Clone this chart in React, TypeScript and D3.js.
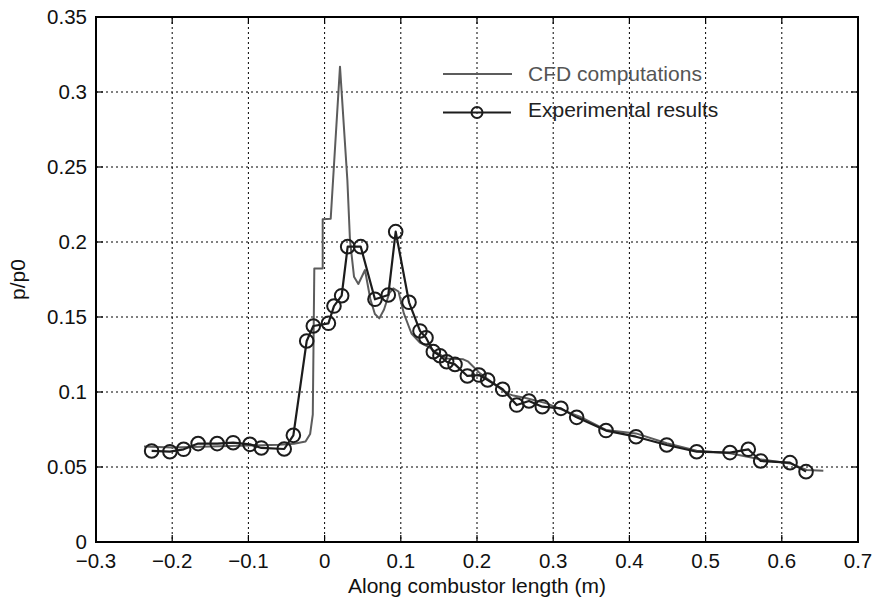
import React from "react";
import * as d3 from "d3";

const expX = [-0.227, -0.203, -0.185, -0.166, -0.141, -0.12, -0.098, -0.083, -0.053, -0.041, -0.0235, -0.0148, 0.005, 0.0123, 0.0224, 0.0303, 0.0474, 0.0661, 0.0836, 0.0933, 0.1108, 0.1252, 0.1331, 0.1427, 0.1514, 0.1602, 0.1711, 0.1873, 0.2026, 0.214, 0.2337, 0.2521, 0.2682, 0.2857, 0.3102, 0.3308, 0.3693, 0.4087, 0.449, 0.4883, 0.532, 0.556, 0.5723, 0.6108, 0.6318];
const expY = [0.0607, 0.0602, 0.0618, 0.0656, 0.0656, 0.0662, 0.0651, 0.0627, 0.062, 0.0711, 0.134, 0.144, 0.1458, 0.1573, 0.1642, 0.1969, 0.1969, 0.1618, 0.1647, 0.2069, 0.1598, 0.1407, 0.1362, 0.1269, 0.1242, 0.1202, 0.1184, 0.1107, 0.1113, 0.108, 0.1018, 0.0913, 0.094, 0.0902, 0.0891, 0.0831, 0.0743, 0.0702, 0.0647, 0.0602, 0.0596, 0.0618, 0.054, 0.0529, 0.0469];

const cfdX = [-0.237, -0.2, -0.15, -0.1, -0.06, -0.04, -0.025, -0.019, -0.0155, -0.0135, -0.0025, -0.0025, 0.008, 0.0202, 0.0299, 0.0333, 0.0386, 0.0443, 0.053, 0.06, 0.066, 0.0718, 0.078, 0.085, 0.0902, 0.097, 0.104, 0.114, 0.125, 0.137, 0.145, 0.16, 0.182, 0.1886, 0.204, 0.2214, 0.239, 0.2477, 0.2652, 0.2915, 0.3177, 0.335, 0.3693, 0.4087, 0.449, 0.4883, 0.532, 0.5714, 0.6108, 0.6327, 0.6545];
const cfdY = [0.0636, 0.063, 0.0636, 0.0643, 0.0648, 0.0655, 0.067, 0.072, 0.085, 0.1824, 0.1824, 0.2151, 0.2155, 0.3169, 0.241, 0.2013, 0.1769, 0.172, 0.1813, 0.162, 0.152, 0.1491, 0.155, 0.166, 0.1691, 0.167, 0.1524, 0.139, 0.133, 0.13, 0.1269, 0.1224, 0.1218, 0.1202, 0.1124, 0.1058, 0.0991, 0.0976, 0.0958, 0.0924, 0.0869, 0.0835, 0.0747, 0.0724, 0.0658, 0.0609, 0.0591, 0.0551, 0.0524, 0.048, 0.0475];

const xDomain: [number, number] = [-0.3, 0.7];
const yDomain: [number, number] = [0, 0.35];
const legendLabels = ["CFD computations", "Experimental results"];
const xTitle = "Along combustor length (m)";
const yTitle = "p/p0";

const W = 876, H = 598;
const L = 96, R = 858, T = 17, B = 542;
const FONT = "'Liberation Sans', Arial, Helvetica, sans-serif";
const CFD_COLOR = "#5c5c5c";
const EXP_COLOR = "#1c1c1c";

export default function App() {
  const x = d3.scaleLinear().domain(xDomain).range([L, R]);
  const y = d3.scaleLinear().domain(yDomain).range([B, T]);
  const xTicks = x.ticks(10);
  const yTicks = y.ticks(7);
  const fmt = d3.format("~g");

  const cfd = cfdX.map((v, i) => [v, cfdY[i]] as [number, number]);
  const exp = expX.map((v, i) => [v, expY[i]] as [number, number]);
  const line = d3.line<[number, number]>().x(d => x(d[0])).y(d => y(d[1]));

  const tickLen = 7;

  return (
    <svg width={W} height={H} style={{ position: "absolute", left: 0, top: 0, background: "#fff" }} fontFamily={FONT}>
      <rect x={0} y={0} width={W} height={H} fill="#fff" />
      {xTicks.filter(t => x(t) > L + 1 && x(t) < R - 1).map((t, i) => (
        <line key={"gx" + i} x1={x(t)} x2={x(t)} y1={T} y2={B} stroke="#000" strokeWidth={1} strokeDasharray="2,3" />
      ))}
      {yTicks.filter(t => y(t) > T + 1 && y(t) < B - 1).map((t, i) => (
        <line key={"gy" + i} x1={L} x2={R} y1={y(t)} y2={y(t)} stroke="#000" strokeWidth={1} strokeDasharray="2,3" />
      ))}
      {xTicks.map((t, i) => (
        <g key={"tx" + i}>
          <line x1={x(t)} x2={x(t)} y1={B} y2={B - tickLen} stroke="#000" strokeWidth={1.2} />
          <line x1={x(t)} x2={x(t)} y1={T} y2={T + tickLen} stroke="#000" strokeWidth={1.2} />
          <text x={x(t)} y={568} fontSize={20.5} textAnchor="middle" fill="#111">{fmt(t)}</text>
        </g>
      ))}
      {yTicks.map((t, i) => (
        <g key={"ty" + i}>
          <line x1={L} x2={L + tickLen} y1={y(t)} y2={y(t)} stroke="#000" strokeWidth={1.2} />
          <line x1={R} x2={R - tickLen} y1={y(t)} y2={y(t)} stroke="#000" strokeWidth={1.2} />
          <text x={87} y={y(t)} dy="0.34em" fontSize={20.5} textAnchor="end" fill="#111">{fmt(t)}</text>
        </g>
      ))}
      <path d={line(cfd) || ""} fill="none" stroke={CFD_COLOR} strokeWidth={2} strokeLinejoin="round" />
      <path d={line(exp) || ""} fill="none" stroke={EXP_COLOR} strokeWidth={2.2} strokeLinejoin="round" />
      {exp.map((d, i) => (
        <circle key={"c" + i} cx={x(d[0])} cy={y(d[1])} r={6.8} fill="none" stroke={EXP_COLOR} strokeWidth={2} />
      ))}
      <rect x={L} y={T} width={R - L} height={B - T} fill="none" stroke="#000" strokeWidth={2} />
      <line x1={443} x2={512} y1={74} y2={74} stroke={CFD_COLOR} strokeWidth={2} />
      <text x={528} y={81} fontSize={21} fill="#555">{legendLabels[0]}</text>
      <line x1={443} x2={511} y1={112.5} y2={112.5} stroke={EXP_COLOR} strokeWidth={2.2} />
      <circle cx={477} cy={112.5} r={5.5} fill="none" stroke={EXP_COLOR} strokeWidth={2} />
      <text x={528} y={117} fontSize={21} fill="#222">{legendLabels[1]}</text>
      <text x={(L + R) / 2} y={593} fontSize={21} textAnchor="middle" fill="#111">{xTitle}</text>
      <text transform={`translate(25,${(T + B) / 2}) rotate(-90)`} fontSize={21} textAnchor="middle" fill="#111">{yTitle}</text>
    </svg>
  );
}
